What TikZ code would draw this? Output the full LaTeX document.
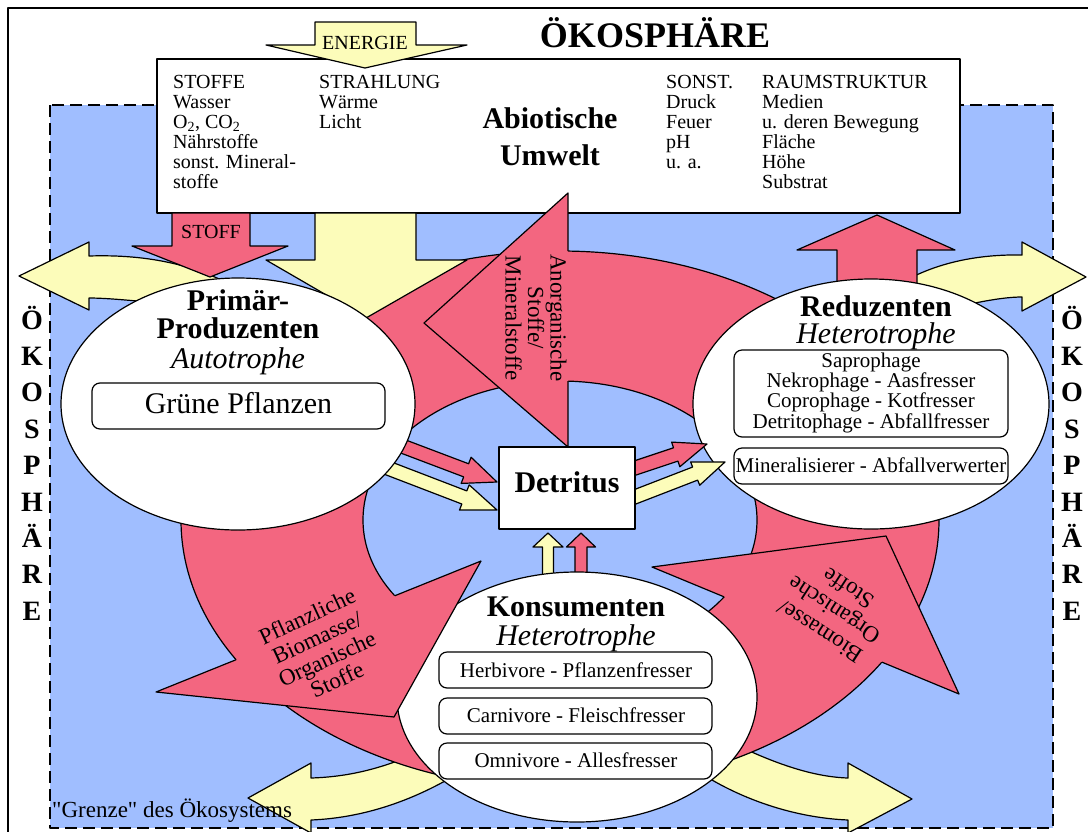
\documentclass[tikz,border=0pt]{standalone}
\usepackage{fontspec}
\setmainfont{Liberation Serif}
\newfontfamily\qfont{Liberation Serif}[Ligatures=TeXOff]
\usetikzlibrary{calc,intersections,shapes.geometric}
\definecolor{bgblue}{RGB}{160,190,255}
\definecolor{apink}{RGB}{243,102,128}
\definecolor{ayellow}{RGB}{252,252,186}
\newcommand{\fs}[1]{\fontsize{#1}{#1}\selectfont}
\newcommand{\fsl}[2]{\fontsize{#1}{#2}\selectfont}
% #1 style, #2 start, #3 tip, #4 half body width, #5 half head width, #6 head length
\newcommand{\blockarrow}[6]{%
  \coordinate (bas) at #2;
  \coordinate (bae) at #3;
  \coordinate (bah) at ($(bae)!#6!(bas)$);
  \filldraw[#1] ($(bas)!#4!90:(bae)$) -- ($(bah)!#4!90:(bae)$) -- ($(bah)!#5!90:(bae)$) -- (bae)
     -- ($(bah)!#5!-90:(bae)$) -- ($(bah)!#4!-90:(bae)$) -- ($(bas)!#4!-90:(bae)$) -- cycle;
}
\begin{document}
\begin{tikzpicture}[x=1pt,y=-1pt,line join=round,
  outl/.style={draw=black,line width=1.2pt},
  pinkf/.style={fill=apink},
  yelf/.style={fill=ayellow},
  t20/.style={font=\fs{20},inner sep=0pt},
  t21/.style={font=\fs{21},inner sep=0pt,anchor=base},
  hb/.style={font=\fs{30}\bfseries,inner sep=0pt,anchor=base},
  hi/.style={font=\fs{30}\itshape,inner sep=0pt,anchor=base},
  lett/.style={font=\fs{28}\bfseries,inner sep=0pt,anchor=base},
  rbox/.style={draw=black,line width=1.2pt,fill=white,rounded corners=8pt,inner sep=0pt},
  sbox/.style={draw=black,line width=1.3pt,fill=white,inner sep=0pt},
  ell/.style={ellipse,draw=black,line width=1.2pt,fill=white,inner sep=0pt},
  tritext/.style={font=\fsl{23}{23.5},align=center,inner sep=0pt}
]
\useasboundingbox (0,0) rectangle (1088,831);
\clip (0,0) rectangle (1088,831);

% outer frame
\draw[line width=2pt] (8,845) -- (8,8) -- (1100,8);

% ecosystem area
\filldraw[fill=bgblue,draw=black,line width=1.3pt,dash pattern=on 12pt off 6pt] (50,105) rectangle (1053,828);

% abiotic box
\node[sbox,minimum width=803pt,minimum height=154pt] (abio) at (558.5,136) {};

% energy arrow
\filldraw[yelf,outl] (315,22) -- (416,22) -- (416,45) -- (467,45) -- (365,68) -- (266,45) -- (315,45) -- cycle;
\node[t20,anchor=base] (energie) at (365,49) {ENERGIE};

% curved yellow exchange arrows
\filldraw[yelf,outl] (19,276) -- (89,242) -- (89,256) .. controls (150,254) and (200,266) .. (240,290)
  -- (240,330) -- (137,301) .. controls (115,299) and (100,298) .. (89,298) -- (89,310) -- cycle;
\filldraw[yelf,outl] (1086,277) -- (1022,242) -- (1022,255) .. controls (970,254) and (925,266) .. (890,290)
  -- (890,330) -- (975,303) .. controls (995,299) and (1010,297) .. (1022,297) -- (1022,311) -- cycle;
\filldraw[yelf,outl] (248,798) -- (311,763) -- (311,778) .. controls (345,777) and (375,770) .. (405,758)
  -- (470,740) -- (480,765) -- (445,781) .. controls (405,803) and (360,818) .. (311,820) -- (311,833) -- cycle;
\filldraw[yelf,outl] (912,799) -- (848,763) -- (848,778) .. controls (815,777) and (780,765) .. (745,749)
  -- (700,735) -- (690,770) -- (712,780) .. controls (752,803) and (800,818) .. (848,820) -- (848,833) -- cycle;

% material cycle ring
\path[name path=outerE] (560,520) ellipse [x radius=379, y radius=269];
\path[name path=innerE] (560,520) ellipse [x radius=197, y radius=139];
\filldraw[pinkf,outl,even odd rule] (560,520) ellipse [x radius=379, y radius=269]
  (560,520) ellipse [x radius=197, y radius=139];

% big arrows from / to abiotic box
\filldraw[yelf,outl] (315,213) -- (416,213) -- (416,260) -- (467,260) -- (366,318) -- (266,260) -- (315,260) -- cycle;
\filldraw[pinkf,outl] (172,213) -- (250,213) -- (250,246) -- (288,246) -- (210,277) -- (132,246) -- (172,246) -- cycle;
\node[t20,anchor=base] (stoff) at (211,238) {STOFF};
\filldraw[pinkf,outl] (837,310) -- (837,250) -- (797,250) -- (877,215) -- (955,250) -- (917,250) -- (917,310) -- cycle;

% small arrows (under ellipses)
\blockarrow{pinkf,outl}{(394,443)}{(497,482)}{7pt}{14pt}{33pt}
\blockarrow{yelf,outl}{(385,467)}{(497,510)}{7pt}{13.5pt}{35pt}
\blockarrow{yelf,outl}{(548,590)}{(548,533)}{5.5pt}{15pt}{14pt}
\blockarrow{pinkf,outl}{(581,590)}{(581,533)}{6pt}{14.5pt}{14pt}

% Primaerproduzenten
\node[ell,minimum width=354pt,minimum height=252pt] (prim) at (238,404) {};
\node[hb] (prim1) at (238,310) {Primär-};
\node[hb] (prim2) at (238,338) {Produzenten};
\node[hi] (prim3) at (238,368) {Autotrophe};
\node[rbox,minimum width=293pt,minimum height=46pt] (gpbox) at (238.5,406) {};
\node[font=\fs{30},inner sep=0pt,anchor=base] (gp) at (238.5,413) {Grüne Pflanzen};

% Reduzenten
\node[ell,minimum width=356pt,minimum height=250pt] (red) at (871,404) {};
\node[hb] (red1) at (876,316) {Reduzenten};
\node[hi] (red2) at (876,343) {Heterotrophe};
\node[rbox,minimum width=274pt,minimum height=87pt] (rbox1) at (871,393.5) {};
\node[font=\fsl{21}{20.3},align=center,inner sep=0pt,anchor=north] (rtxt1) at (871,352.6)
  {Saprophage\\Nekrophage - Aasfresser\\Coprophage - Kotfresser\\Detritophage - Abfallfresser};
\node[rbox,minimum width=274pt,minimum height=36pt] (rbox2) at (871,466) {};
\node[t21] (rtxt2) at (871,472) {Mineralisierer - Abfallverwerter};

% Konsumenten
\node[ell,minimum width=360pt,minimum height=250pt] (kons) at (577,697) {};
\node[hb] (kons1) at (576,616) {Konsumenten};
\node[hi] (kons2) at (576,645) {Heterotrophe};
\node[rbox,minimum width=273pt,minimum height=36pt] (kb1) at (575.5,670) {};
\node[t21] (kt1) at (576,677) {Herbivore - Pflanzenfresser};
\node[rbox,minimum width=273pt,minimum height=36pt] (kb2) at (575.5,716) {};
\node[t21] (kt2) at (576,722) {Carnivore - Fleischfresser};
\node[rbox,minimum width=273pt,minimum height=36pt] (kb3) at (575.5,761) {};
\node[t21] (kt3) at (576,767) {Omnivore - Allesfresser};

% arrowheads of the cycle
\path[name path=baseA] (568,190) -- (568,450);
\path[name intersections={of=outerE and baseA, by=aO}];
\path[name intersections={of=innerE and baseA, by=aI}];
\fill[pinkf] (568,193) -- (424,323) -- (568,447) -- cycle;
\draw[outl] (aO) -- (568,193) -- (424,323) -- (568,447) -- (aI);
\node[tritext,rotate=-90,font=\fsl{23}{22.5}] (anorg) at (536,318) {Anorganische\\Stoffe/\\Mineralstoffe};

\path[name path=baseP] (156,692) -- (481,561);
\path[name intersections={of=outerE and baseP, by=pO}];
\path[name intersections={of=innerE and baseP, by=pI}];
\fill[pinkf] (156,692) -- (394,717) -- (481,561) -- cycle;
\draw[outl] (pO) -- (156,692) -- (394,717) -- (481,561) -- (pI);
\node[tritext,rotate=25] (pflanz) at (322,648) {Pflanzliche\\Biomasse/\\Organische\\Stoffe};

\path[name path=baseB] (652,567) -- (959,694);
\path[name intersections={of=outerE and baseB, by=bO}];
\path[name intersections={of=innerE and baseB, by=bI}];
\fill[pinkf] (652,567) -- (886,536) -- (959,694) -- cycle;
\draw[outl] (bI) -- (652,567) -- (886,536) -- (959,694) -- (bO);
\node[tritext,rotate=147,font=\fsl{23}{26}] (biom) at (834,610) {Biomasse/\\Organische\\Stoffe};

% small arrows towards Reduzenten
\blockarrow{pinkf,outl}{(629,470)}{(707,444)}{7pt}{13pt}{33pt}
\blockarrow{yelf,outl}{(632,498)}{(725,462)}{7pt}{12.5pt}{32pt}

% Detritus
\node[sbox,minimum width=136pt,minimum height=82pt] (detr) at (567,488) {};
\node[hb] (detrt) at (567,492) {Detritus};

% texts of abiotic box
\node[t20,align=left,anchor=north west] (col1) at (173,75)
  {STOFFE\\Wasser\\O\textsubscript{2}, CO\textsubscript{2}\\Nährstoffe\\sonst. Mineral-\\stoffe};
\node[t20,align=left,anchor=north west] (col2) at (319,75) {STRAHLUNG\\Wärme\\Licht};
\node[t20,align=left,anchor=north west] (col3) at (666,75) {SONST.\\Druck\\Feuer\\pH\\u. a.};
\node[t20,align=left,anchor=north west] (col4) at (762,75)
  {RAUMSTRUKTUR\\Medien\\u. deren Bewegung\\Fläche\\Höhe\\Substrat};
\node[hb] (abio1) at (550,128) {Abiotische};
\node[hb] (abio2) at (550,165) {Umwelt};

% title and side labels
\node[font=\fs{36}\bfseries,inner sep=0pt,anchor=base] (title) at (655,47) {ÖKOSPHÄRE};
\foreach \l [count=\i from 0] in {Ö,K,O,S,P,H,Ä,R,E} {
  \node[lett] (ol\i) at (32,{329+36.4*\i}) {\l};
  \node[lett] (or\i) at (1072,{329+36.4*\i}) {\l};
}
\node[font=\fs{23}\qfont,inner sep=0pt,anchor=base west] (grenze) at (52,817) {"Grenze" des Ökosystems};
\end{tikzpicture}
\end{document}
